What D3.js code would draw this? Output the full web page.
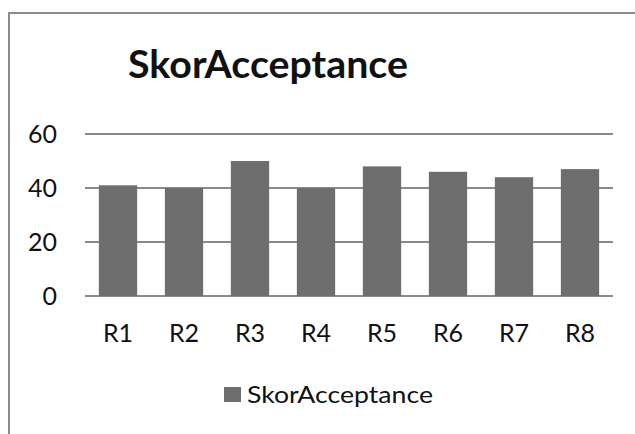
<!doctype html>
<html lang="en">
	<head>
		<meta charset="utf-8" />
		<title>SkorAcceptance</title>
		<script src="https://cdn.jsdelivr.net/npm/d3@7"></script>
		<style>
			body { margin: 0; background: #fff; }
			text { font-family: Lato, "Noto Sans", sans-serif; fill: #111; }
		</style>
	</head>
	<body>
		<script type="text/javascript">
			var categories = ["R1", "R2", "R3", "R4", "R5", "R6", "R7", "R8"];
			var scores = [41, 40, 50, 40, 48, 46, 44, 47];
			var yTicks = [0, 20, 40, 60];
			var seriesName = "SkorAcceptance";

			var w = 635;
			var h = 434;
			var barColor = "#6e6e6e";
			var gridColor = "#8a8a8a";

			var svg = d3.select("body")
				.append("svg")
				.attr("width", w)
				.attr("height", h);

			// chart frame, runs off the right and bottom edges
			svg.append("path")
				.attr("d", "M9,440 V13 H640")
				.attr("fill", "none")
				.attr("stroke", "#8c8c8c")
				.attr("stroke-width", 2);

			svg.append("text")
				.attr("x", 128)
				.attr("y", 78)
				.attr("font-size", "39px")
				.attr("font-weight", "bold")
				.attr("textLength", 280)
				.attr("lengthAdjust", "spacingAndGlyphs")
				.text(seriesName);

			var x = d3.scaleBand()
				.domain(categories)
				.range([85, 613])
				.paddingInner(0.42)
				.paddingOuter(0.21);

			var y = d3.scaleLinear()
				.domain([0, 60])
				.range([296, 134]);

			// gridlines
			svg.selectAll("line.grid")
				.data(yTicks)
				.enter()
				.append("line")
				.attr("class", "grid")
				.attr("x1", 85)
				.attr("x2", 613)
				.attr("y1", function(d) { return y(d); })
				.attr("y2", function(d) { return y(d); })
				.attr("stroke", gridColor)
				.attr("stroke-width", 2);

			svg.selectAll("rect.bar")
				.data(scores)
				.enter()
				.append("rect")
				.attr("class", "bar")
				.attr("x", function(d, i) { return x(categories[i]); })
				.attr("y", function(d) { return y(d); })
				.attr("width", x.bandwidth())
				.attr("height", function(d) { return y(0) - y(d); })
				.attr("fill", barColor);

			// y labels
			svg.selectAll("text.ylab")
				.data(yTicks)
				.enter()
				.append("text")
				.attr("class", "ylab")
				.attr("x", 57)
				.attr("y", function(d) { return y(d); })
				.attr("dy", "0.36em")
				.attr("text-anchor", "end")
				.attr("font-size", "25px")
				.text(function(d) { return d; });

			// x labels
			svg.selectAll("text.xlab")
				.data(categories)
				.enter()
				.append("text")
				.attr("class", "xlab")
				.attr("x", function(d) { return x(d) + x.bandwidth() / 2; })
				.attr("y", 342)
				.attr("text-anchor", "middle")
				.attr("font-size", "25px")
				.text(function(d) { return d; });

			// legend
			svg.append("rect")
				.attr("x", 224)
				.attr("y", 387)
				.attr("width", 17)
				.attr("height", 15)
				.attr("fill", barColor);

			svg.append("text")
				.attr("x", 247)
				.attr("y", 403)
				.attr("font-size", "23px")
				.attr("textLength", 186)
				.attr("lengthAdjust", "spacingAndGlyphs")
				.text(seriesName);
		</script>
	</body>
</html>
